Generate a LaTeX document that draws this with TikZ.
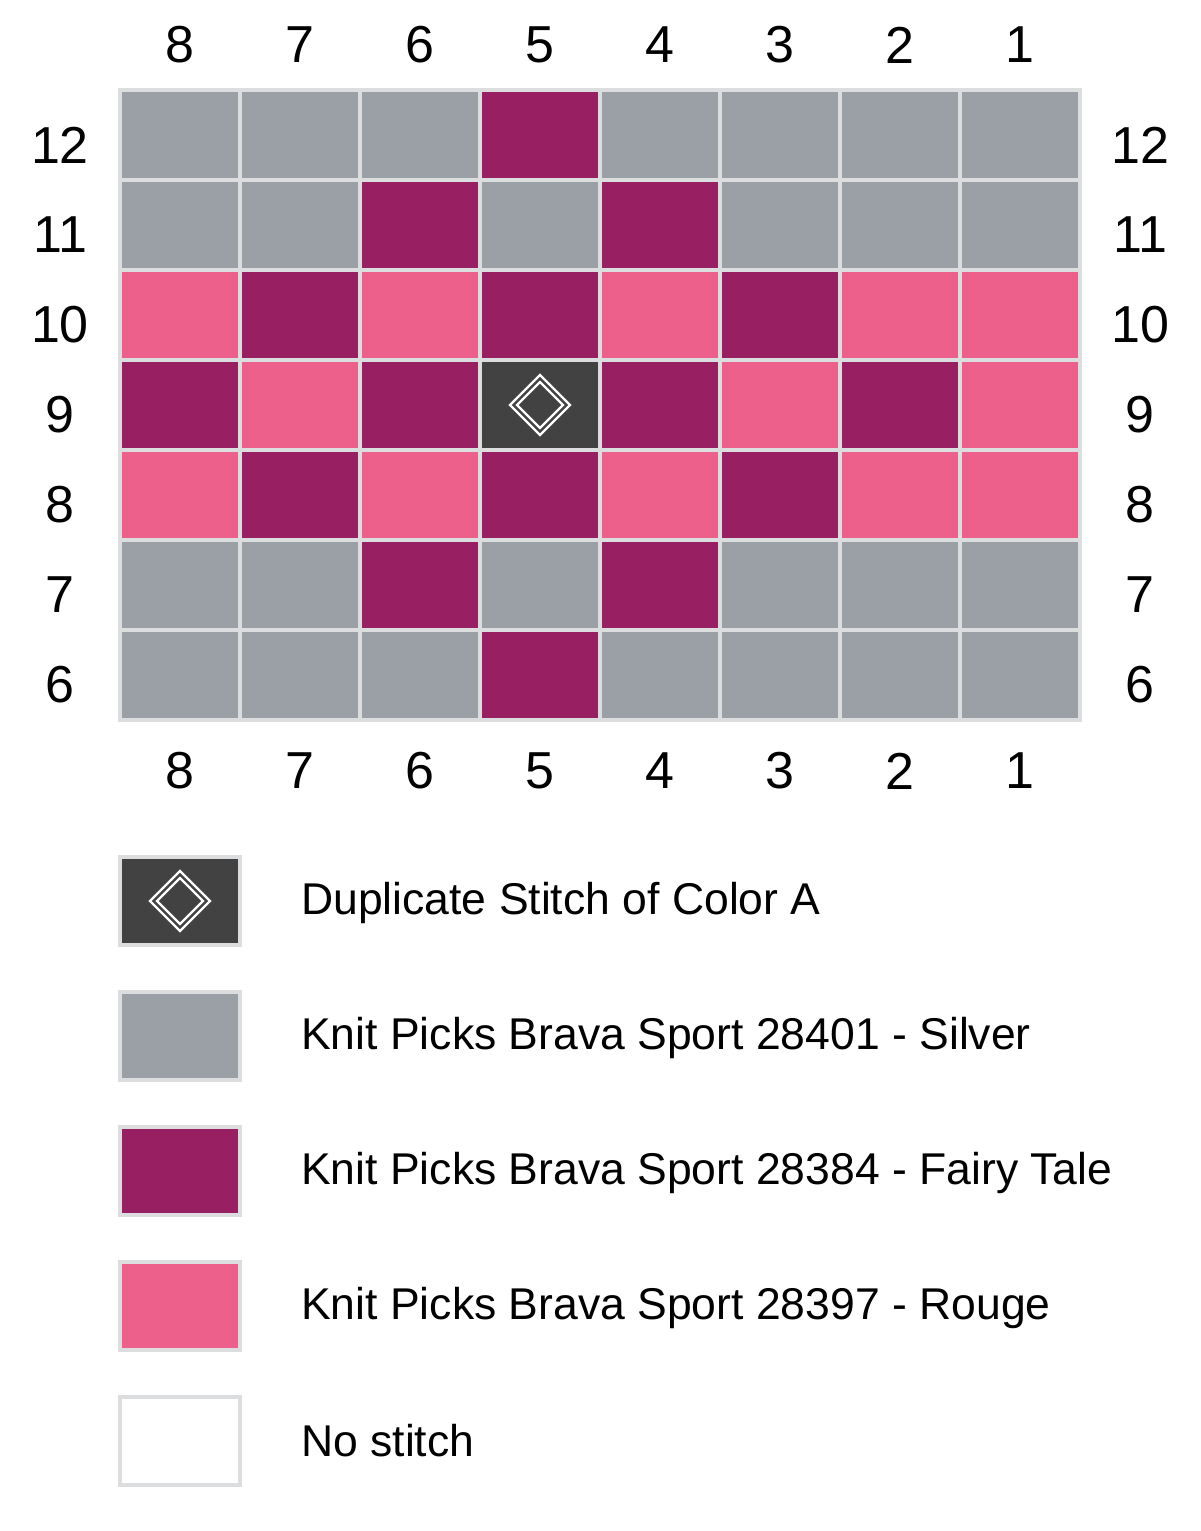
\documentclass[tikz,border=0pt]{standalone}
\usepackage{fontspec}
\setmainfont{Liberation Sans}
\definecolor{silver}{RGB}{155,160,167}
\definecolor{fairy}{RGB}{152,32,98}
\definecolor{rouge}{RGB}{237,96,139}
\definecolor{dup}{RGB}{66,66,66}
\definecolor{gridline}{RGB}{220,221,223}
\begin{document}
\begin{tikzpicture}[x=1pt,y=-1pt,
  cell/.style={draw=gridline, line width=4pt, minimum width=120pt, minimum height=90pt, inner sep=0pt, outer sep=0pt},
  keybox/.style={draw=gridline, line width=4pt, minimum width=120pt, minimum height=88pt, inner sep=0pt, outer sep=0pt},
  numlab/.style={font=\fontsize{52}{60}\selectfont, inner sep=0pt},
  keytext/.style={font=\fontsize{44.5}{52}\selectfont, anchor=west, inner sep=0pt},
  dmdline/.style={draw=white, line width=2.4pt, line join=miter}]
\useasboundingbox (0,0) rectangle (1200,1531);
\fill[white] (0,0) rectangle (1200,1531);
% grid rows: top (12) to bottom (6); columns left (8) to right (1)
\foreach \col [count=\cc from 0] in {silver,silver,silver,fairy,silver,silver,silver,silver}
  \node[cell, fill=\col] (c-0-\cc) at (180+120*\cc, 135) {};
\foreach \col [count=\cc from 0] in {silver,silver,fairy,silver,fairy,silver,silver,silver}
  \node[cell, fill=\col] (c-1-\cc) at (180+120*\cc, 225) {};
\foreach \col [count=\cc from 0] in {rouge,fairy,rouge,fairy,rouge,fairy,rouge,rouge}
  \node[cell, fill=\col] (c-2-\cc) at (180+120*\cc, 315) {};
\foreach \col [count=\cc from 0] in {fairy,rouge,fairy,dup,fairy,rouge,fairy,rouge}
  \node[cell, fill=\col] (c-3-\cc) at (180+120*\cc, 405) {};
\foreach \col [count=\cc from 0] in {rouge,fairy,rouge,fairy,rouge,fairy,rouge,rouge}
  \node[cell, fill=\col] (c-4-\cc) at (180+120*\cc, 495) {};
\foreach \col [count=\cc from 0] in {silver,silver,fairy,silver,fairy,silver,silver,silver}
  \node[cell, fill=\col] (c-5-\cc) at (180+120*\cc, 585) {};
\foreach \col [count=\cc from 0] in {silver,silver,silver,fairy,silver,silver,silver,silver}
  \node[cell, fill=\col] (c-6-\cc) at (180+120*\cc, 675) {};
% duplicate stitch mark in row 9, column 5
\draw[dmdline] (c-3-3.center) ++(-30,0) -- ++(30,-30) -- ++(30,30) -- ++(-30,30) -- cycle;
\draw[dmdline] (c-3-3.center) ++(-23,0) -- ++(23,-23) -- ++(23,23) -- ++(-23,23) -- cycle;
% column numbers
\foreach \n [count=\cc from 0] in {8,7,6,5,4,3,2,1}{
  \node[numlab] (top-\n) at (180+120*\cc, 45) {\n};
  \node[numlab] (bot-\n) at (180+120*\cc, 771) {\n};
}
% row numbers
\foreach \n [count=\rr from 0] in {12,11,10,9,8,7,6}{
  \node[numlab] (left-\n) at (60, 145+90*\rr) {\n};
  \node[numlab] (right-\n) at (1140, 145+90*\rr) {\n};
}
% legend
\node[keybox, fill=dup] (k1) at (180,901) {};
\draw[dmdline] (k1.center) ++(-30,0) -- ++(30,-30) -- ++(30,30) -- ++(-30,30) -- cycle;
\draw[dmdline] (k1.center) ++(-23,0) -- ++(23,-23) -- ++(23,23) -- ++(-23,23) -- cycle;
\node[keybox, fill=silver] (k2) at (180,1036) {};
\node[keybox, fill=fairy] (k3) at (180,1171) {};
\node[keybox, fill=rouge] (k4) at (180,1306) {};
\node[keybox, fill=white] (k5) at (180,1441) {};
\node[keytext] (t1) at (301,903) {Duplicate Stitch of Color A};
\node[keytext] (t2) at (301,1038) {Knit Picks Brava Sport 28401 - Silver};
\node[keytext] (t3) at (301,1173) {Knit Picks Brava Sport 28384 - Fairy Tale};
\node[keytext] (t4) at (301,1308) {Knit Picks Brava Sport 28397 - Rouge};
\node[keytext] (t5) at (301,1441) {No stitch};
\end{tikzpicture}
\end{document}
